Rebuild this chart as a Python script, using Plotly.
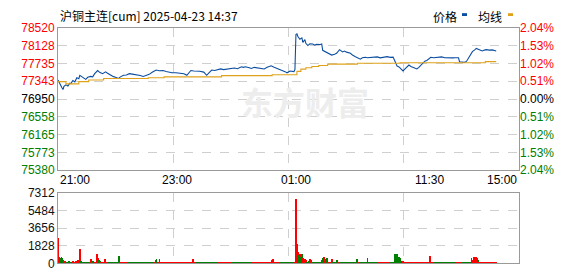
import plotly.graph_objects as go

W, H = 578, 276

title_text = "沪铜主连[cum] 2025-04-23 14:37"

# minute index from 21:00 (night 21:00-01:00, day 09:00-10:15, 10:30-11:30, 13:30-15:00)
price_min = [0, 2, 4, 5, 6, 8, 10, 12, 13, 15, 17, 19, 21, 22, 24, 26, 28, 30, 33, 35, 37, 40, 42, 45, 48,
             50, 52, 56, 58, 61, 63, 66, 69, 72, 75, 79, 83, 86, 89, 92, 95, 99, 102, 106, 109, 112, 115,
             119, 123, 127, 130, 132, 134, 137, 140, 143, 147, 150, 152, 155, 158, 161, 164, 167, 170, 173,
             178, 181, 185, 187, 189, 193, 195, 198, 201, 204, 208, 211, 215, 218, 221, 224, 226, 229, 231,
             234, 236, 238, 239, 240, 241, 242, 244, 246, 247, 249, 250, 252, 254, 257, 259, 261, 264, 266,
             267, 270, 272, 274, 276, 279, 281, 284, 286, 287, 289, 291, 295, 297, 300, 302, 305, 307, 310,
             312, 315, 318, 322, 325, 328, 332, 335, 338, 340, 342, 344, 345, 347, 348, 350, 352, 354, 356,
             358, 360, 362, 364, 366, 368, 370, 372, 376, 379, 381, 383, 385, 387, 390, 393, 395, 398, 401,
             404, 405, 408, 410, 412, 415, 418, 420, 422, 425, 428, 430, 432, 435, 438, 442]
price = [77370, 77300, 77200, 77160, 77230, 77264, 77240, 77300, 77290, 77360, 77330, 77420, 77400, 77475,
         77440, 77420, 77385, 77430, 77450, 77440, 77510, 77578, 77540, 77510, 77550, 77520, 77490, 77445,
         77430, 77405, 77440, 77475, 77480, 77510, 77500, 77490, 77470, 77450, 77470, 77495, 77540, 77590,
         77575, 77580, 77560, 77545, 77530, 77530, 77520, 77510, 77475, 77530, 77580, 77570, 77575, 77565,
         77545, 77475, 77520, 77590, 77580, 77600, 77615, 77600, 77605, 77620, 77635, 77620, 77662, 77650,
         77662, 77640, 77625, 77650, 77640, 77625, 77615, 77650, 77683, 77650, 77630, 77600, 77580, 77555,
         77530, 77570, 77560, 77555, 77600, 78374, 78388, 78330, 78270, 78300, 78200, 78260, 78180, 78130,
         78170, 78165, 78140, 78160, 78150, 78165, 78025, 77990, 77955, 77940, 77920, 77940, 77960, 78040,
         78000, 77990, 78010, 77985, 77960, 77920, 77885, 77860, 77830, 77860, 77872, 77860, 77865, 77875,
         77880, 77860, 77865, 77885, 77870, 77875, 77780, 77677, 77660, 77640, 77600, 77570, 77615, 77660,
         77700, 77670, 77648, 77630, 77615, 77650, 77700, 77740, 77787, 77800, 77872, 77860, 77865, 77862,
         77870, 77880, 77860, 77865, 77865, 77858, 77862, 77860, 77773, 77770, 77760, 77780, 77893, 77997,
         78030, 78067, 78040, 78012, 78030, 78040, 78030, 78035, 78010]

avg_min = [0, 8, 20, 21, 31, 46, 91, 107, 164, 165, 215, 216, 239, 241, 245, 250, 256, 263, 272, 302, 345,
           430, 431, 442]
avg = [77335, 77285, 77285, 77335, 77370, 77405, 77420, 77440, 77440, 77467, 77467, 77488, 77488, 77560,
       77610, 77640, 77670, 77690, 77720, 77740, 77752, 77752, 77775, 77775]

y_ticks = [78520, 78128, 77735, 77343, 76950, 76558, 76165, 75773, 75380]
pct_labels = ["2.04%", "1.53%", "1.02%", "0.51%", "0.00%", "0.51%", "1.02%", "1.53%", "2.04%"]
prev_settle = 76950

time_labels = ["21:00", "23:00", "01:00", "11:30", "15:00"]
time_label_min = [0, 120, 240, 375, 465]
total_minutes = 465

vol_ticks = [0, 1828, 3656, 5484, 7312]

# notable volume bars: minute, volume, up(1)/down(0)
vol_min = [0, 1, 2, 3, 4, 5, 6, 7, 9, 11, 13, 15, 18, 20, 22, 23, 33, 35, 39, 40, 41, 42, 47, 61, 67, 98,
           99, 102, 104, 136, 163, 179, 214, 216, 217, 240, 241, 242, 243, 244, 245, 246, 247, 248, 249,
           250, 251, 253, 254, 255, 266, 267, 268, 269, 270, 271, 272, 276, 281, 283, 301, 303, 312, 322,
           340, 341, 342, 343, 344, 345, 347, 348, 353, 369, 375, 376, 393, 417, 418, 420, 421, 422, 423,
           424, 432]
vol_val = [2620, 600, 560, 650, 500, 380, 200, 250, 150, 200, 180, 250, 200, 380, 1530, 200, 450, 200, 940,
           550, 300, 230, 400, 740, 150, 300, 400, 450, 150, 450, 150, 150, 150, 350, 450, 6700, 2000, 1150,
           900, 1000, 700, 940, 540, 400, 400, 300, 150, 200, 400, 300, 300, 540, 640, 400, 400, 540, 150,
           450, 300, 150, 400, 150, 540, 150, 940, 940, 940, 400, 700, 500, 250, 250, 150, 150, 740, 150,
           150, 540, 330, 640, 640, 640, 540, 300, 150]
vol_up = [1, 0, 0, 0, 0, 0, 1, 1, 0, 0, 0, 1, 1, 1, 1, 0, 1, 0, 1, 1, 0, 0, 1, 0, 1, 1,
          0, 1, 0, 1, 1, 0, 1, 1, 1, 1, 1, 1, 0, 1, 0, 0, 1, 1, 1,
          1, 0, 0, 1, 1, 1, 0, 1, 1, 1, 0, 1, 1, 0, 1, 0, 1, 0, 0,
          0, 0, 0, 0, 0, 0, 1, 1, 1, 1, 1, 1, 0, 1, 1, 1, 1, 1, 1, 0, 1]
last_minute = 442
base_volume = 80
base_green_ranges = [(8, 14), (24, 32), (50, 60), (70, 95), (140, 160), (175, 195), (225, 238),
                     (256, 265), (277, 300), (304, 320), (336, 346), (380, 400), (408, 416)]

RED = "#ff0000"
GREEN = "#008000"
BLUE = "#0b4da0"
ORANGE = "#e0a21a"
GRID = "#cfcfcf"
FRAME = "#9a9a9a"
FONT = "Liberation Sans, Arial, sans-serif"
CJK = "Noto Sans CJK SC, sans-serif"

# build full volume series
vmap = {m: (v, u) for m, v, u in zip(vol_min, vol_val, vol_up)}
vx, vy, vc = [], [], []
for m in range(last_minute + 1):
    if m in vmap:
        v, u = vmap[m]
        c = RED if u else GREEN
    else:
        v = base_volume
        c = GREEN if any(a <= m <= b for a, b in base_green_ranges) else RED
    vx.append(m)
    vy.append(v)
    vc.append(c)


def level_color(v):
    return RED if v > prev_settle else ("#000000" if v == prev_settle else GREEN)


left_text = [f"<span style='color:{level_color(v)}'>{v}</span>" for v in y_ticks]
right_text = [f"<span style='color:{level_color(v)}'>{t}</span>" for v, t in zip(y_ticks, pct_labels)]

# layout in pixels
px_l, px_r = 58, 519
main_top, main_bot = 22, 172
vol_top, vol_bot = 196, 270
xd = [px_l / W, px_r / W]
main_dom = [1 - main_bot / H, 1 - main_top / H]
vol_dom = [1 - vol_bot / H, 1 - vol_top / H]
grid_x = [total_minutes * k / 4 for k in (1, 2, 3)]

fig = go.Figure()
fig.add_trace(go.Scatter(x=price_min, y=price, mode="lines", line=dict(color=BLUE, width=1.1),
                         xaxis="x", yaxis="y", showlegend=False, hoverinfo="skip"))
fig.add_trace(go.Scatter(x=avg_min, y=avg, mode="lines", line=dict(color=ORANGE, width=1.1, shape="hv"),
                         xaxis="x", yaxis="y", showlegend=False, hoverinfo="skip"))
fig.add_trace(go.Bar(x=vx, y=vy, marker=dict(color=vc, line=dict(width=0)), width=0.9,
                     xaxis="x2", yaxis="y2", showlegend=False, hoverinfo="skip"))
# invisible trace for right axis
fig.add_trace(go.Scatter(x=[0], y=[prev_settle], mode="markers", marker=dict(opacity=0),
                         xaxis="x", yaxis="y3", showlegend=False, hoverinfo="skip"))

axis_common = dict(showline=True, linecolor=FRAME, linewidth=1, mirror=True, zeroline=False)
fig.update_layout(
    width=W, height=H, margin=dict(l=0, r=0, t=0, b=0),
    paper_bgcolor="white", plot_bgcolor="white", bargap=0,
    font=dict(family=FONT, size=12, color="#000"),
    xaxis=dict(domain=xd, range=[0, total_minutes], anchor="y", tickvals=grid_x, showticklabels=False,
               ticks="", showgrid=True, gridcolor=GRID, griddash="dash", gridwidth=1, **axis_common),
    yaxis=dict(domain=main_dom, range=[y_ticks[-1], y_ticks[0]], anchor="x", tickvals=y_ticks,
               ticktext=left_text, ticks="", showgrid=True, gridcolor=GRID, griddash="dash",
               tickfont=dict(size=12, family=FONT), **axis_common),
    yaxis3=dict(overlaying="y", side="right", anchor="x", range=[y_ticks[-1], y_ticks[0]],
                tickvals=y_ticks, ticktext=right_text, ticks="", showgrid=False, zeroline=False,
                showline=False, tickfont=dict(size=12, family=FONT)),
    xaxis2=dict(domain=xd, range=[-0.5, total_minutes], anchor="y2", tickvals=grid_x, showticklabels=False,
                ticks="", showgrid=True, gridcolor=GRID, griddash="dash", **axis_common),
    yaxis2=dict(domain=vol_dom, range=[0, vol_ticks[-1]], anchor="x2", tickvals=vol_ticks, ticks="",
                showgrid=True, gridcolor=GRID, griddash="dash", tickfont=dict(size=12, family=FONT, color="#111"),
                **axis_common),
)

ann = []
ann.append(dict(text=title_text, xref="paper", yref="paper", x=px_l / W, y=1 - 9 / H, xanchor="left",
                yanchor="middle", showarrow=False, font=dict(family=CJK, size=12, color="#000")))
for t, m in zip(time_labels, time_label_min):
    xa = "left" if m == 0 else ("right" if m == total_minutes else "center")
    ann.append(dict(text=t, xref="x", yref="paper", x=m, y=1 - 182 / H, xanchor=xa, yanchor="middle",
                    showarrow=False, font=dict(family=FONT, size=12, color="#000")))
# legend
ann.append(dict(text="价格", xref="paper", yref="paper", x=431 / W, y=1 - 10 / H, xanchor="left",
                yanchor="middle", showarrow=False, font=dict(family=CJK, size=12, color="#000")))
ann.append(dict(text="均线", xref="paper", yref="paper", x=476 / W, y=1 - 10 / H, xanchor="left",
                yanchor="middle", showarrow=False, font=dict(family=CJK, size=12, color="#000")))
# watermark
ann.append(dict(text="<b>东方财富</b>", xref="paper", yref="paper", x=305 / W, y=1 - 99 / H, xanchor="center",
                yanchor="middle", showarrow=False, font=dict(family=CJK, size=32, color="#ededed")))
fig.update_layout(annotations=ann)

fig.update_layout(shapes=[
    dict(type="rect", xref="paper", yref="paper", x0=462 / W, x1=467 / W, y0=1 - 9.5 / H, y1=1 - 6.5 / H,
         fillcolor=BLUE, line=dict(width=0)),
    dict(type="rect", xref="paper", yref="paper", x0=508 / W, x1=513 / W, y0=1 - 9.5 / H, y1=1 - 6.5 / H,
         fillcolor=ORANGE, line=dict(width=0)),
])

fig.write_html("out.html")
